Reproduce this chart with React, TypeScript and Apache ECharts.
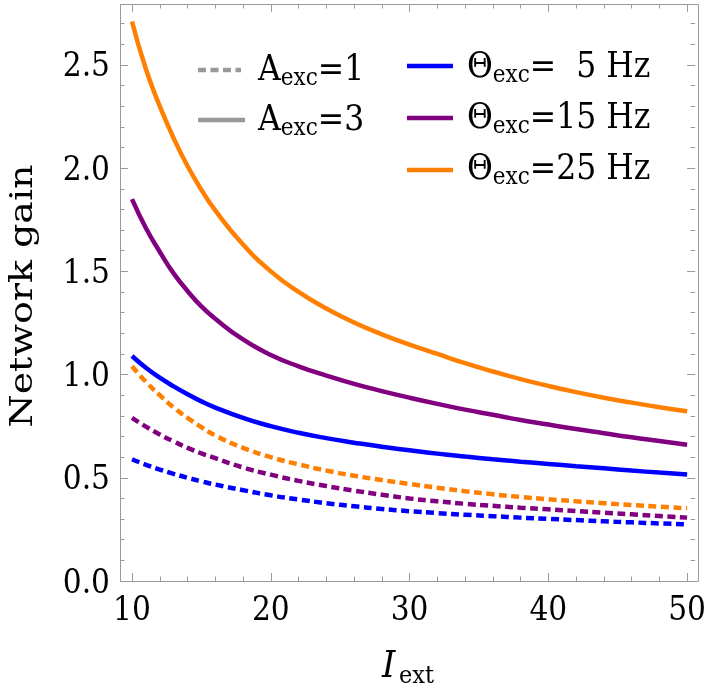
import React, { useEffect, useRef } from 'react';
import * as echarts from 'echarts';

const FF = "'DejaVu Serif Condensed', 'DejaVu Serif', serif";
const FR = "'DejaVu Serif', serif";
const GRAY = '#9a9a9a';

// I_ext sample points
const iExt = [10, 11, 12, 13, 14, 15, 16, 18, 20, 22, 24, 26, 28, 30, 32, 34, 36, 38, 40, 42, 44, 46, 48, 50];

// A_exc = 3 (solid)
const gainA3T5 = [1.09, 1.033, 0.985, 0.943, 0.905, 0.87, 0.84, 0.79, 0.75, 0.718, 0.692, 0.67, 0.65, 0.633, 0.617, 0.603, 0.59, 0.578, 0.567, 0.556, 0.546, 0.535, 0.525, 0.516];
const gainA3T15 = [1.85, 1.71, 1.595, 1.49, 1.405, 1.33, 1.27, 1.17, 1.095, 1.04, 0.995, 0.955, 0.92, 0.888, 0.858, 0.83, 0.805, 0.78, 0.758, 0.736, 0.716, 0.696, 0.678, 0.66];
const gainA3T25 = [2.71, 2.48, 2.3, 2.145, 2.01, 1.895, 1.795, 1.63, 1.5, 1.4, 1.32, 1.252, 1.195, 1.145, 1.1, 1.055, 1.015, 0.978, 0.945, 0.915, 0.888, 0.864, 0.842, 0.822];

// A_exc = 1 (dashed)
const gainA1T5 = [0.59, 0.563, 0.54, 0.519, 0.5, 0.483, 0.467, 0.44, 0.415, 0.395, 0.377, 0.362, 0.349, 0.338, 0.329, 0.321, 0.314, 0.307, 0.301, 0.295, 0.289, 0.284, 0.279, 0.274];
const gainA1T15 = [0.79, 0.748, 0.71, 0.676, 0.645, 0.618, 0.595, 0.55, 0.515, 0.485, 0.46, 0.438, 0.418, 0.4, 0.386, 0.374, 0.364, 0.355, 0.347, 0.339, 0.331, 0.323, 0.315, 0.307];
const gainA1T25 = [1.04, 0.965, 0.9, 0.84, 0.79, 0.745, 0.705, 0.645, 0.6, 0.565, 0.535, 0.51, 0.489, 0.47, 0.452, 0.435, 0.42, 0.407, 0.396, 0.386, 0.377, 0.368, 0.36, 0.352];

const thetaLabels = ['5', '15', '25'];
const ampLabels = ['1', '3'];

const BLUE = '#0000ff';
const PURPLE = '#800080';
const ORANGE = '#ff8000';

function measure(text: string, size: number, family = FF, style = 'normal'): number {
  const c = document.createElement('canvas').getContext('2d')!;
  c.font = `${style} normal ${size}px ${family}`;
  return c.measureText(text).width;
}

export default function App() {
  const ref = useRef<HTMLDivElement>(null);
  useEffect(() => {
    const chart = echarts.init(ref.current!, null, { renderer: 'svg' });
    const M = 33;
    const LM = 35;
    const LS = 24;
    const cen = (b: number, size: number) => b - 0.346 * size;

    const mkLine = (x1: number, x2: number, y: number, color: string, dashed: boolean) => ({
      type: 'line',
      shape: { x1, y1: y, x2, y2: y },
      style: { stroke: color, lineWidth: 4.5, lineDash: dashed ? [8, 4.5] : null, lineCap: 'butt' },
      silent: true,
    });
    const txt = (text: string, x: number, y: number, size: number, extra: any = {}) => ({
      type: 'text',
      x,
      y,
      silent: true,
      style: { text, fontFamily: FF, fontSize: size, fill: '#000', align: 'left', verticalAlign: 'middle', ...extra },
    });

    const graphics: any[] = [];
    // frame
    graphics.push({
      type: 'rect',
      shape: { x: 120.5, y: 4.5, width: 578, height: 577 },
      style: { fill: 'none', stroke: GRAY, lineWidth: 1 },
      silent: true,
      z: 10,
    });
    // legend col 1 (amplitude)
    const aBase = [80, 130];
    const aLineY = [70, 120];
    ampLabels.forEach((a, i) => {
      graphics.push(mkLine(198, i === 0 ? 241 : 245, aLineY[i], '#999999', i === 0));
      let x = 258;
      graphics.push(txt('A', x, cen(aBase[i], LM), LM));
      x += measure('A', LM);
      graphics.push(txt('exc', x, cen(aBase[i] + 5, LS), LS));
      x += measure('exc', LS);
      graphics.push(txt('=' + a, x, cen(aBase[i], LM), LM));
    });
    // legend col 2 (theta)
    const tBase = [77, 128, 179];
    const tLineY = [66, 118, 170];
    const tCols = [BLUE, PURPLE, ORANGE];
    thetaLabels.forEach((t, i) => {
      graphics.push(mkLine(407, 453, tLineY[i], tCols[i], false));
      let x = 467;
      graphics.push(txt('Θ', x, cen(tBase[i], LM), LM));
      x += measure('Θ', LM);
      graphics.push(txt('exc', x, cen(tBase[i] + 5, LS), LS));
      x += measure('exc', LS);
      graphics.push(txt('=', x, cen(tBase[i], LM), LM));
      x += measure('=', LM);
      const numEnd = x + measure('15', LM);
      graphics.push(txt(t, numEnd, cen(tBase[i], LM), LM, { align: 'right' }));
      graphics.push(txt(' Hz', numEnd, cen(tBase[i], LM), LM));
    });
    // axis titles
    graphics.push({
      type: 'text',
      x: 21,
      y: 296,
      rotation: Math.PI / 2,
      scaleY: 0.85,
      silent: true,
      style: { text: 'Network gain', fontFamily: FR, fontSize: 38, fill: '#000', align: 'center', verticalAlign: 'middle' },
    });
    graphics.push({
      type: 'text',
      x: 382,
      y: cen(677, 37),
      scaleX: 0.92,
      silent: true,
      style: { text: 'I', fontFamily: FR, fontSize: 37, fontStyle: 'italic', fill: '#000', align: 'left', verticalAlign: 'middle' },
    });
    graphics.push(txt('ext', 399, cen(683, 25), 25));

    const tickLabelFmt = (v: number) => (Math.abs(v * 2 - Math.round(v * 2)) < 1e-6 ? v.toFixed(1) : '');

    const xAx = (pos: 'bottom' | 'top', labels: boolean) => ({
      type: 'value',
      position: pos,
      min: 10,
      max: 50,
      interval: 10,
      axisLine: { show: false, onZero: false },
      splitLine: { show: false },
      axisTick: { show: true, inside: true, length: 8, lineStyle: { color: GRAY, width: 1 } },
      minorTick: { show: true, splitNumber: 5, length: 4.5, lineStyle: { color: GRAY, width: 1 } },
      axisLabel: { show: labels, fontFamily: FF, fontSize: M, color: '#000', margin: 11 },
    });
    const yAx = (pos: 'left' | 'right', offset: number, interval: number, len: number, labels: boolean) => ({
      type: 'value',
      position: pos,
      offset,
      min: 0,
      max: 2.795,
      interval,
      axisLine: { show: false, onZero: false },
      splitLine: { show: false },
      axisTick: { show: true, inside: true, length: len, lineStyle: { color: GRAY, width: 1 } },
      axisLabel: { show: labels, fontFamily: FF, fontSize: M, color: '#000', margin: 10, formatter: tickLabelFmt },
    });

    const seriesDefs = [
      { name: 'A1 T5', data: gainA1T5, color: BLUE, dashed: true },
      { name: 'A1 T15', data: gainA1T15, color: PURPLE, dashed: true },
      { name: 'A1 T25', data: gainA1T25, color: ORANGE, dashed: true },
      { name: 'A3 T5', data: gainA3T5, color: BLUE, dashed: false },
      { name: 'A3 T15', data: gainA3T15, color: PURPLE, dashed: false },
      { name: 'A3 T25', data: gainA3T25, color: ORANGE, dashed: false },
    ];

    chart.setOption({
      animation: false,
      grid: { left: 132, right: 19, top: 4, bottom: 107, containLabel: false },
      xAxis: [xAx('bottom', true), xAx('top', false)],
      yAxis: [
        yAx('left', 12, 0.5, 8, true),
        yAx('left', 12, 0.1, 4.5, false),
        yAx('right', 8, 0.5, 8, false),
        yAx('right', 8, 0.1, 4.5, false),
      ],
      series: seriesDefs.map((s) => ({
        type: 'line',
        name: s.name,
        xAxisIndex: 0,
        yAxisIndex: 0,
        data: iExt.map((x, i) => [x, s.data[i]]),
        showSymbol: false,
        smooth: 0.5,
        clip: false,
        lineStyle: { color: s.color, width: 4.5, type: s.dashed ? [8, 4.5] : 'solid', cap: 'butt' },
      })),
      graphic: graphics,
    });
    return () => chart.dispose();
  }, []);
  return <div ref={ref} style={{ position: 'fixed', left: 0, top: 0, width: 709, height: 688 }} />;
}
